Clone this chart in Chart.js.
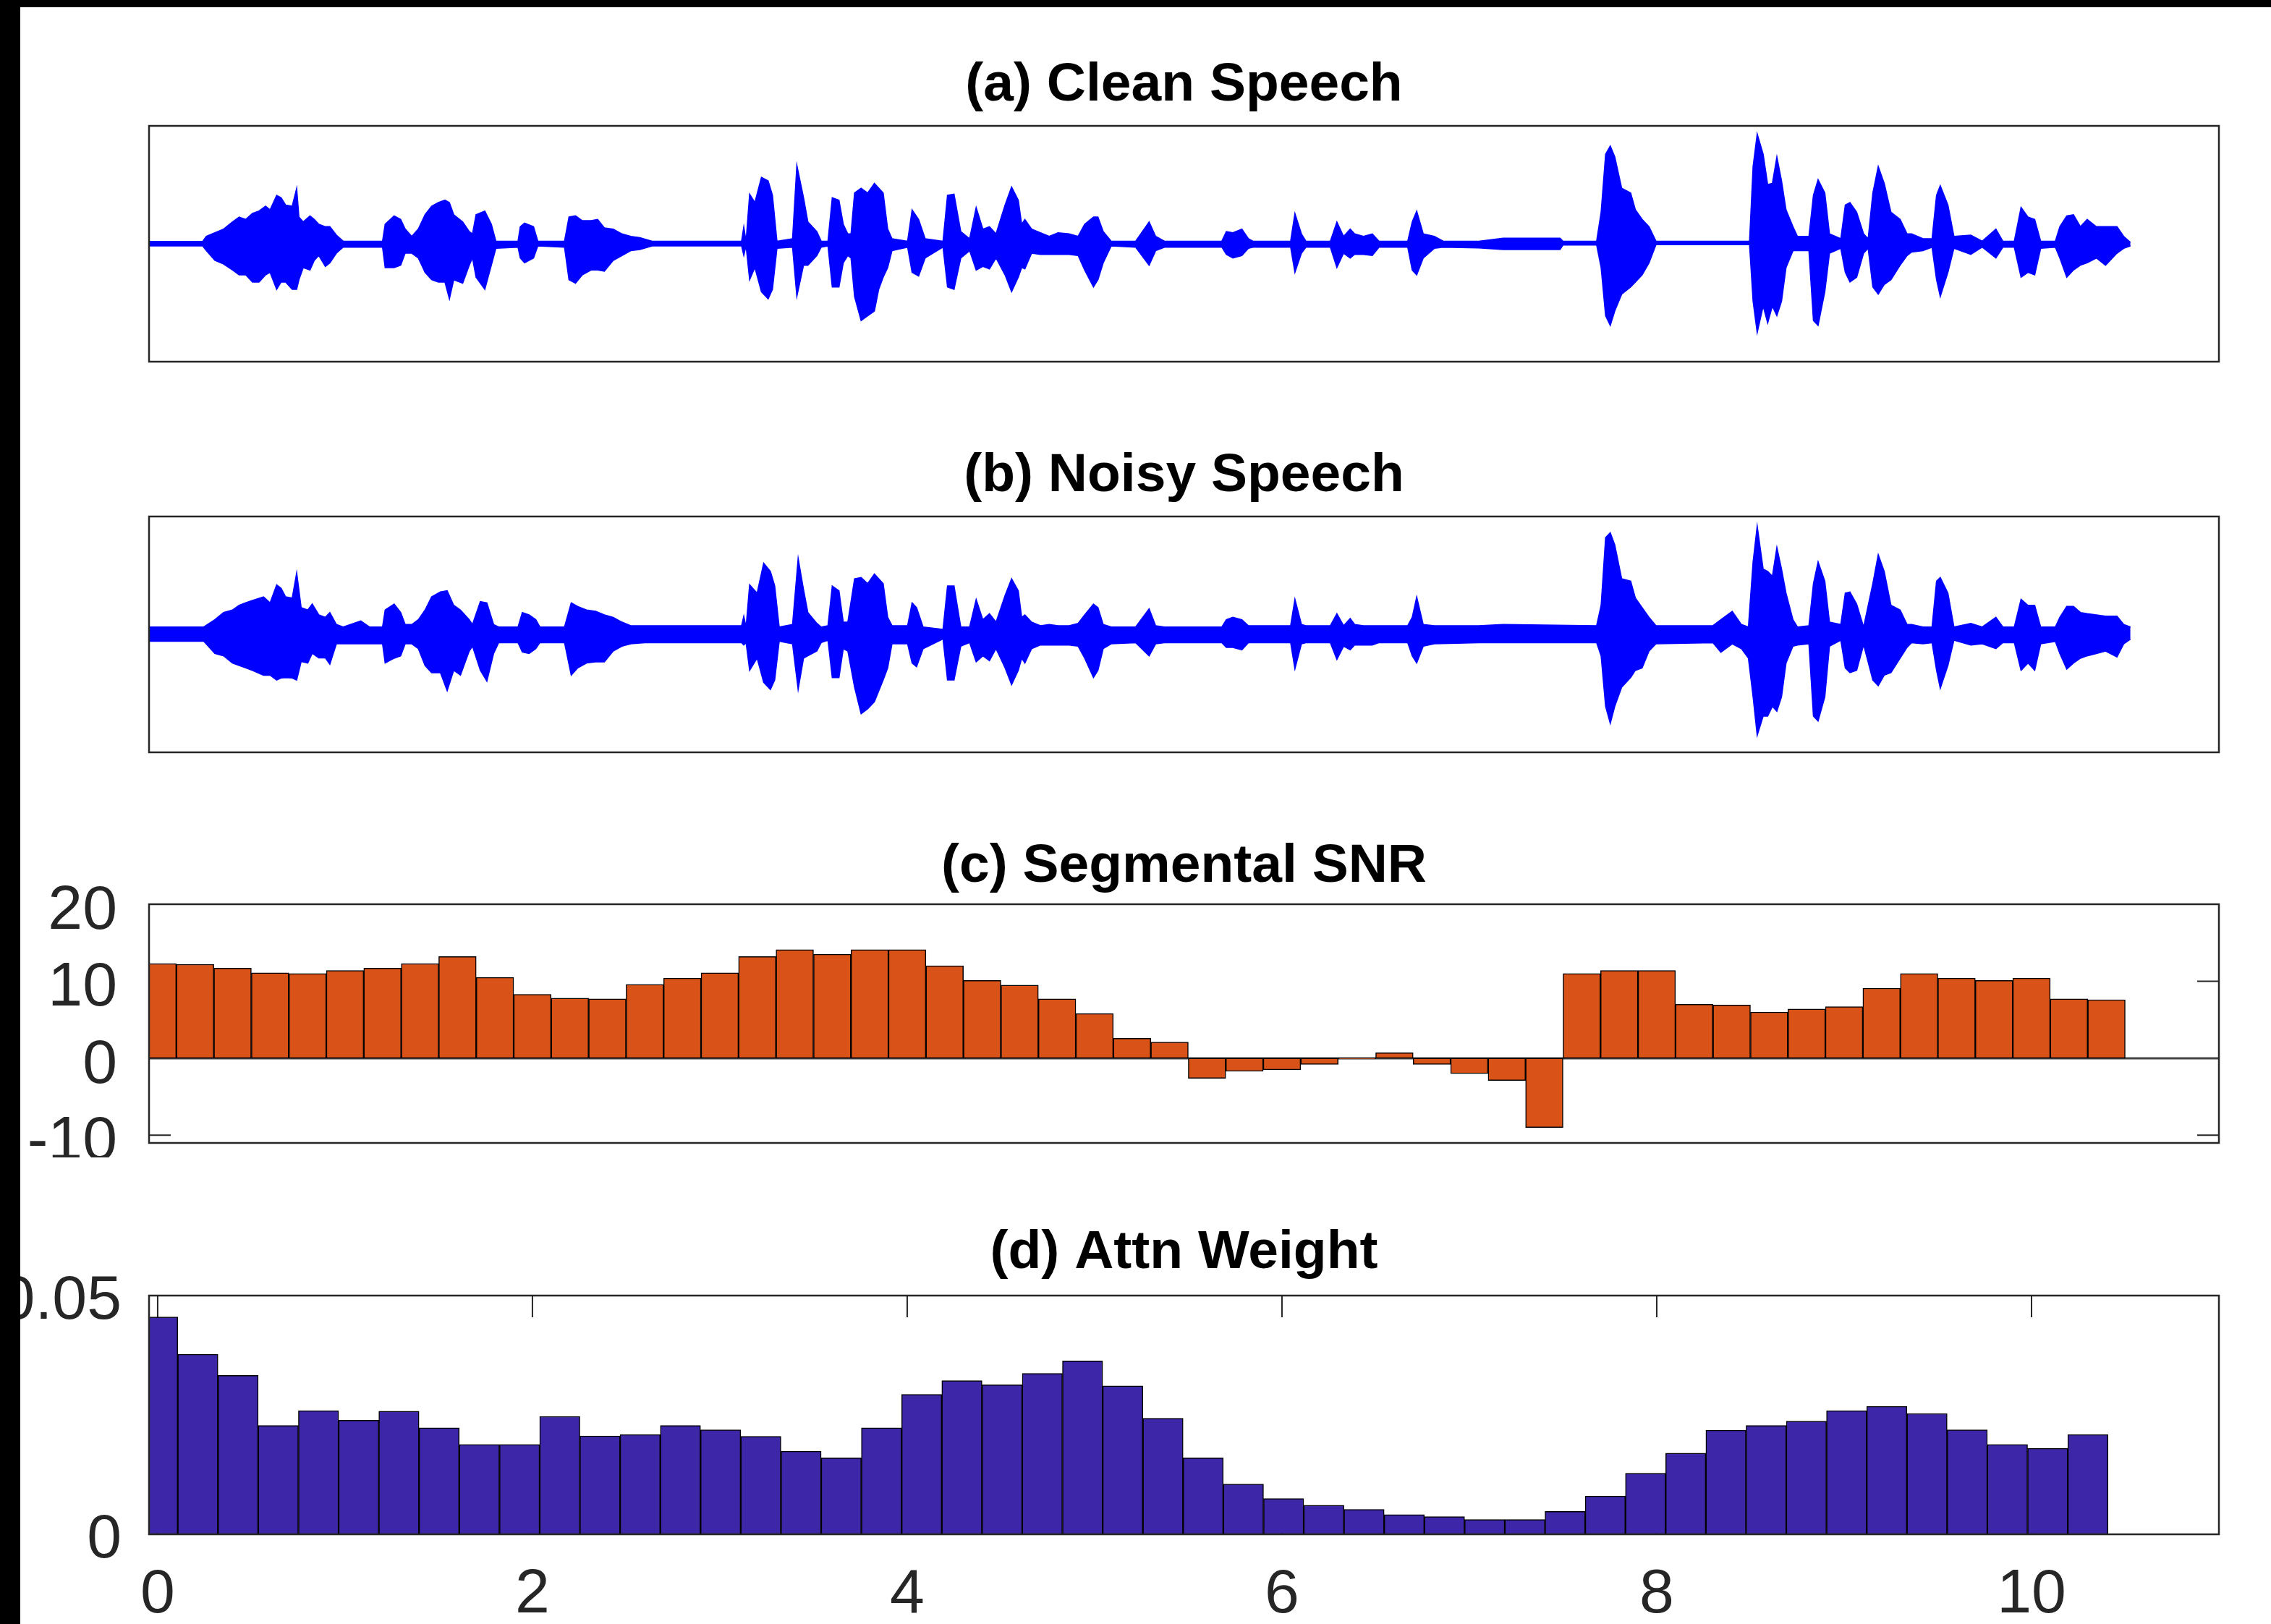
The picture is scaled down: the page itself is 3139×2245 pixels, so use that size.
<!DOCTYPE html>
<html>
<head>
<meta charset="utf-8">
<title>Clean / noisy speech, segmental SNR, attention weight</title>
<script src="https://cdn.jsdelivr.net/npm/chart.js@4.4.0/dist/chart.umd.min.js"></script>
<style>
  html, body { margin: 0; padding: 0; background: #fff; }
  body { width: 3139px; height: 2245px; position: relative; overflow: hidden; }
  .panel { position: absolute; left: 0; width: 3139px; }
  #edgeTop { position: absolute; left: 0; top: 0; width: 3139px; height: 10px; background: #000; z-index: 5; }
  #edgeLeft { position: absolute; left: 0; top: 0; width: 28px; height: 2245px; background: #000; z-index: 5; }
</style>
</head>
<body>
<div id="edgeTop"></div>
<div id="edgeLeft"></div>
<div class="panel" style="top:0px;height:520px"><canvas id="clean" width="3139" height="520"></canvas></div>
<div class="panel" style="top:540px;height:520px"><canvas id="noisy" width="3139" height="520"></canvas></div>
<div class="panel" style="top:1080px;height:520px"><canvas id="snr" width="3139" height="520"></canvas></div>
<div class="panel" style="top:1620px;height:625px"><canvas id="attn" width="3139" height="625"></canvas></div>
<script>
// ---- data ----
const timeMin = -0.046, timeMax = 11;
const timeTicks = [0, 2, 4, 6, 8, 10];
const snrTicks = [-10, 0, 10, 20];
const attnTicks = [0, 0.05];

// waveform envelopes (seconds, normalised amplitude)
const cleanTime = [-0.05, 0.24, 0.26, 0.305, 0.352, 0.40, 0.435, 0.47, 0.506, 0.541,
  0.576, 0.60, 0.635, 0.659, 0.683, 0.718, 0.742, 0.754, 0.777, 0.813,
  0.836, 0.86, 0.895, 0.919, 0.954, 0.99, 1.20, 1.214, 1.262, 1.297,
  1.321, 1.356, 1.391, 1.427, 1.462, 1.498, 1.533, 1.557, 1.58, 1.628,
  1.663, 1.68, 1.699, 1.746, 1.781, 1.805, 1.923, 1.935, 1.958, 2.006,
  2.029, 2.171, 2.195, 2.23, 2.266, 2.313, 2.348, 2.384, 2.431, 2.478,
  2.525, 2.573, 2.639, 3.116, 3.128, 3.14, 3.159, 3.187, 3.222, 3.258,
  3.281, 3.305, 3.388, 3.411, 3.447, 3.47, 3.518, 3.541, 3.577, 3.60,
  3.636, 3.659, 3.683, 3.70, 3.719, 3.754, 3.789, 3.825, 3.848, 3.872,
  3.896, 3.919, 4.002, 4.026, 4.061, 4.096, 4.191, 4.215, 4.25, 4.286,
  4.333, 4.368, 4.404, 4.439, 4.474, 4.522, 4.557, 4.593, 4.611, 4.628,
  4.664, 4.711, 4.758, 4.805, 4.864, 4.912, 4.947, 4.994, 5.018, 5.046,
  5.089, 5.219, 5.291, 5.326, 5.373, 5.679, 5.703, 5.738, 5.786, 5.821,
  5.845, 6.046, 6.069, 6.104, 6.128, 6.258, 6.293, 6.329, 6.364, 6.388,
  6.435, 6.482, 6.518, 6.671, 6.695, 6.719, 6.754, 6.813, 6.861, 7.05,
  7.18, 7.484, 7.5, 7.679, 7.703, 7.727, 7.752, 7.776, 7.813, 7.861,
  7.886, 7.922, 7.959, 7.996, 8.495, 8.514, 8.536, 8.568, 8.592, 8.617,
  8.641, 8.666, 8.69, 8.727, 8.751, 8.812, 8.836, 8.861, 8.897, 8.922,
  8.982, 9.006, 9.031, 9.067, 9.104, 9.128, 9.153, 9.182, 9.214, 9.25,
  9.299, 9.336, 9.36, 9.421, 9.469, 9.493, 9.513, 9.554, 9.586, 9.676,
  9.737, 9.81, 9.847, 9.908, 9.944, 9.981, 10.017, 10.049, 10.127, 10.151,
  10.188, 10.224, 10.261, 10.297, 10.346, 10.395, 10.456, 10.492, 10.528];
const cleanUpper = [0.02, 0.02, 0.063, 0.094, 0.125, 0.186, 0.227, 0.207, 0.258, 0.278,
  0.319, 0.288, 0.411, 0.391, 0.329, 0.319, 0.472, 0.227, 0.186, 0.237,
  0.207, 0.166, 0.145, 0.145, 0.074, 0.022, 0.022, 0.166, 0.237, 0.207,
  0.125, 0.063, 0.125, 0.247, 0.319, 0.35, 0.37, 0.35, 0.247, 0.186,
  0.104, 0.084, 0.247, 0.278, 0.166, 0.022, 0.022, 0.145, 0.176, 0.145,
  0.022, 0.022, 0.227, 0.237, 0.196, 0.196, 0.207, 0.135, 0.125, 0.084,
  0.063, 0.053, 0.022, 0.022, 0.145, 0.022, 0.421, 0.35, 0.564, 0.534,
  0.411, 0.022, 0.043, 0.667, 0.391, 0.186, 0.104, 0.022, 0.022, 0.391,
  0.37, 0.166, 0.084, 0.084, 0.431, 0.472, 0.431, 0.513, 0.472, 0.431,
  0.125, 0.043, 0.022, 0.288, 0.207, 0.043, 0.022, 0.411, 0.421, 0.104,
  0.043, 0.309, 0.125, 0.145, 0.084, 0.329, 0.483, 0.37, 0.166, 0.207,
  0.125, 0.094, 0.063, 0.094, 0.084, 0.063, 0.166, 0.227, 0.227, 0.104,
  0.022, 0.022, 0.186, 0.063, 0.022, 0.022, 0.104, 0.094, 0.125, 0.043,
  0.022, 0.022, 0.258, 0.084, 0.022, 0.022, 0.186, 0.063, 0.125, 0.084,
  0.063, 0.084, 0.022, 0.022, 0.186, 0.278, 0.084, 0.063, 0.022, 0.022,
  0.047, 0.047, 0.022, 0.022, 0.268, 0.759, 0.83, 0.738, 0.472, 0.431,
  0.288, 0.207, 0.145, 0.022, 0.022, 0.656, 0.933, 0.759, 0.503, 0.513,
  0.738, 0.534, 0.288, 0.145, 0.063, 0.063, 0.411, 0.544, 0.431, 0.084,
  0.043, 0.329, 0.35, 0.268, 0.084, 0.043, 0.431, 0.656, 0.513, 0.268,
  0.207, 0.084, 0.084, 0.043, 0.043, 0.411, 0.493, 0.329, 0.063, 0.074,
  0.022, 0.125, 0.022, 0.022, 0.309, 0.227, 0.207, 0.022, 0.022, 0.145,
  0.237, 0.247, 0.145, 0.207, 0.145, 0.145, 0.145, 0.063, 0.012];
const cleanLower = [-0.018, -0.018, -0.059, -0.141, -0.172, -0.223, -0.264, -0.264, -0.325, -0.325,
  -0.264, -0.243, -0.387, -0.325, -0.325, -0.387, -0.387, -0.305, -0.202, -0.223,
  -0.141, -0.10, -0.192, -0.162, -0.08, -0.029, -0.029, -0.202, -0.202, -0.182,
  -0.08, -0.08, -0.121, -0.243, -0.305, -0.325, -0.325, -0.468, -0.305, -0.335,
  -0.182, -0.121, -0.284, -0.387, -0.182, -0.039, -0.029, -0.121, -0.162, -0.121,
  -0.018, -0.029, -0.305, -0.335, -0.264, -0.223, -0.223, -0.233, -0.141, -0.10,
  -0.059, -0.049, -0.018, -0.018, -0.10, -0.018, -0.305, -0.202, -0.407, -0.468,
  -0.387, -0.039, -0.029, -0.448, -0.182, -0.182, -0.10, -0.029, -0.018, -0.366,
  -0.366, -0.162, -0.10, -0.121, -0.448, -0.652, -0.611, -0.571, -0.387, -0.284,
  -0.202, -0.059, -0.029, -0.243, -0.274, -0.121, -0.029, -0.366, -0.387, -0.121,
  -0.059, -0.223, -0.192, -0.213, -0.121, -0.264, -0.407, -0.284, -0.202, -0.213,
  -0.08, -0.09, -0.09, -0.09, -0.09, -0.10, -0.223, -0.366, -0.305, -0.162,
  -0.018, -0.029, -0.182, -0.059, -0.029, -0.029, -0.09, -0.121, -0.10, -0.039,
  -0.029, -0.029, -0.243, -0.08, -0.029, -0.029, -0.202, -0.08, -0.121, -0.09,
  -0.09, -0.10, -0.029, -0.029, -0.223, -0.264, -0.121, -0.039, -0.029, -0.035,
  -0.049, -0.049, -0.01, -0.01, -0.202, -0.611, -0.693, -0.571, -0.427, -0.366,
  -0.325, -0.264, -0.162, -0.008, -0.008, -0.489, -0.755, -0.53, -0.673, -0.53,
  -0.611, -0.489, -0.202, -0.059, -0.059, -0.059, -0.652, -0.693, -0.407, -0.08,
  -0.039, -0.243, -0.325, -0.284, -0.08, -0.039, -0.366, -0.427, -0.346, -0.305,
  -0.182, -0.10, -0.07, -0.059, -0.029, -0.305, -0.448, -0.243, -0.039, -0.09,
  -0.029, -0.121, -0.029, -0.029, -0.284, -0.243, -0.264, -0.039, -0.029, -0.121,
  -0.284, -0.223, -0.182, -0.162, -0.121, -0.182, -0.08, -0.039, -0.018];

const noisyTime = [-0.05, 0.246, 0.305, 0.352, 0.399, 0.435, 0.47, 0.506, 0.565, 0.60,
  0.635, 0.659, 0.683, 0.718, 0.742, 0.766, 0.801, 0.825, 0.86, 0.895,
  0.919, 0.954, 0.99, 1.084, 1.13, 1.20, 1.214, 1.262, 1.297, 1.321,
  1.356, 1.391, 1.427, 1.462, 1.509, 1.545, 1.58, 1.616, 1.663, 1.68,
  1.722, 1.757, 1.793, 1.82, 1.923, 1.946, 1.982, 2.018, 2.04, 2.171,
  2.207, 2.242, 2.289, 2.337, 2.384, 2.431, 2.478, 2.525, 2.60, 3.116,
  3.128, 3.14, 3.159, 3.199, 3.234, 3.27, 3.293, 3.317, 3.388, 3.418,
  3.447, 3.47, 3.518, 3.541, 3.577, 3.60, 3.636, 3.659, 3.683, 3.719,
  3.754, 3.789, 3.825, 3.872, 3.896, 3.919, 4.002, 4.026, 4.05, 4.085,
  4.191, 4.215, 4.25, 4.286, 4.333, 4.368, 4.404, 4.439, 4.474, 4.522,
  4.557, 4.593, 4.611, 4.628, 4.664, 4.711, 4.758, 4.805, 4.864, 4.912,
  4.947, 4.994, 5.018, 5.046, 5.089, 5.219, 5.291, 5.326, 5.373, 5.679,
  5.703, 5.738, 5.786, 5.821, 6.046, 6.069, 6.104, 6.128, 6.258, 6.293,
  6.329, 6.364, 6.388, 6.435, 6.482, 6.518, 6.671, 6.695, 6.719, 6.754,
  6.813, 7.05, 7.18, 7.679, 7.703, 7.727, 7.752, 7.776, 7.813, 7.861,
  7.886, 7.922, 7.959, 7.996, 8.30, 8.342, 8.403, 8.452, 8.489, 8.514,
  8.536, 8.568, 8.592, 8.617, 8.641, 8.666, 8.69, 8.727, 8.751, 8.812,
  8.836, 8.861, 8.897, 8.922, 8.982, 9.006, 9.031, 9.067, 9.104, 9.153,
  9.182, 9.214, 9.25, 9.299, 9.336, 9.36, 9.421, 9.469, 9.493, 9.513,
  9.554, 9.586, 9.676, 9.737, 9.81, 9.847, 9.908, 9.944, 9.981, 10.017,
  10.049, 10.127, 10.151, 10.188, 10.224, 10.261, 10.297, 10.346, 10.395, 10.456,
  10.492, 10.528];
const noisyUpper = [0.063, 0.063, 0.125, 0.186, 0.207, 0.247, 0.268, 0.288, 0.319, 0.268,
  0.421, 0.391, 0.319, 0.309, 0.525, 0.227, 0.207, 0.258, 0.166, 0.145,
  0.186, 0.084, 0.063, 0.115, 0.063, 0.063, 0.207, 0.258, 0.186, 0.084,
  0.084, 0.125, 0.207, 0.319, 0.36, 0.37, 0.247, 0.207, 0.125, 0.084,
  0.278, 0.268, 0.084, 0.063, 0.063, 0.186, 0.166, 0.125, 0.063, 0.063,
  0.268, 0.237, 0.207, 0.196, 0.166, 0.145, 0.104, 0.074, 0.074, 0.074,
  0.155, 0.063, 0.421, 0.35, 0.605, 0.534, 0.411, 0.063, 0.084, 0.646,
  0.38, 0.186, 0.094, 0.063, 0.074, 0.411, 0.37, 0.104, 0.104, 0.472,
  0.483, 0.431, 0.513, 0.431, 0.145, 0.074, 0.074, 0.268, 0.227, 0.063,
  0.043, 0.411, 0.411, 0.063, 0.063, 0.298, 0.125, 0.176, 0.104, 0.329,
  0.472, 0.37, 0.145, 0.166, 0.104, 0.074, 0.084, 0.074, 0.074, 0.094,
  0.166, 0.258, 0.227, 0.084, 0.063, 0.063, 0.217, 0.074, 0.063, 0.063,
  0.125, 0.145, 0.125, 0.074, 0.074, 0.299, 0.084, 0.074, 0.074, 0.176,
  0.074, 0.135, 0.084, 0.074, 0.074, 0.074, 0.074, 0.145, 0.319, 0.084,
  0.074, 0.074, 0.084, 0.074, 0.247, 0.821, 0.862, 0.759, 0.472, 0.452,
  0.309, 0.227, 0.145, 0.074, 0.074, 0.125, 0.196, 0.084, 0.063, 0.616,
  0.921, 0.554, 0.534, 0.493, 0.738, 0.554, 0.35, 0.125, 0.063, 0.074,
  0.431, 0.616, 0.452, 0.104, 0.084, 0.35, 0.36, 0.258, 0.063, 0.431,
  0.677, 0.534, 0.248, 0.207, 0.084, 0.084, 0.063, 0.063, 0.452, 0.483,
  0.35, 0.063, 0.094, 0.063, 0.145, 0.063, 0.063, 0.299, 0.247, 0.247,
  0.063, 0.063, 0.145, 0.237, 0.237, 0.186, 0.176, 0.166, 0.155, 0.155,
  0.084, 0.063];
const noisyLower = [-0.059, -0.059, -0.162, -0.182, -0.243, -0.264, -0.284, -0.305, -0.346, -0.346,
  -0.387, -0.37, -0.366, -0.37, -0.387, -0.23, -0.243, -0.16, -0.20, -0.20,
  -0.254, -0.08, -0.08, -0.08, -0.08, -0.08, -0.243, -0.202, -0.182, -0.08,
  -0.08, -0.121, -0.264, -0.325, -0.325, -0.478, -0.305, -0.346, -0.141, -0.10,
  -0.305, -0.397, -0.162, -0.07, -0.07, -0.15, -0.162, -0.121, -0.07, -0.07,
  -0.346, -0.284, -0.243, -0.233, -0.233, -0.141, -0.10, -0.08, -0.07, -0.07,
  -0.09, -0.07, -0.305, -0.202, -0.407, -0.468, -0.387, -0.059, -0.08, -0.468,
  -0.202, -0.182, -0.141, -0.07, -0.049, -0.366, -0.366, -0.121, -0.141, -0.448,
  -0.673, -0.632, -0.571, -0.387, -0.284, -0.08, -0.08, -0.243, -0.274, -0.121,
  -0.039, -0.387, -0.387, -0.10, -0.07, -0.233, -0.182, -0.223, -0.121, -0.284,
  -0.427, -0.305, -0.202, -0.243, -0.121, -0.09, -0.09, -0.09, -0.09, -0.10,
  -0.202, -0.366, -0.305, -0.121, -0.08, -0.07, -0.182, -0.08, -0.07, -0.07,
  -0.11, -0.11, -0.131, -0.07, -0.07, -0.294, -0.08, -0.07, -0.07, -0.213,
  -0.10, -0.131, -0.09, -0.09, -0.09, -0.07, -0.07, -0.182, -0.243, -0.10,
  -0.08, -0.07, -0.07, -0.07, -0.182, -0.611, -0.755, -0.611, -0.448, -0.366,
  -0.305, -0.284, -0.141, -0.08, -0.07, -0.151, -0.08, -0.121, -0.202, -0.53,
  -0.858, -0.693, -0.693, -0.611, -0.652, -0.53, -0.243, -0.10, -0.09, -0.08,
  -0.693, -0.735, -0.53, -0.10, -0.049, -0.284, -0.325, -0.305, -0.09, -0.387,
  -0.436, -0.346, -0.325, -0.202, -0.11, -0.07, -0.08, -0.07, -0.305, -0.458,
  -0.264, -0.049, -0.09, -0.08, -0.121, -0.07, -0.07, -0.305, -0.243, -0.305,
  -0.08, -0.06, -0.162, -0.294, -0.243, -0.202, -0.182, -0.162, -0.141, -0.192,
  -0.08, -0.04];

// segmental SNR (dB), one frame every 0.2 s
const snrHop = 0.2;
const snrValues = [12.3, 12.2, 11.7, 11.1, 11.0, 11.4, 11.7, 12.3, 13.2, 10.5,
  8.3, 7.8, 7.7, 9.6, 10.4, 11.1, 13.2, 14.1, 13.5, 14.1,
  14.1, 12.0, 10.1, 9.5, 7.7, 5.8, 2.6, 2.1, -2.6, -1.7,
  -1.5, -0.8, -0.1, 0.7, -0.8, -2.0, -2.9, -9.0, 11.0, 11.4,
  11.4, 7.0, 6.9, 6.0, 6.4, 6.7, 9.1, 11.0, 10.4, 10.1,
  10.4, 7.7, 7.6];

// attention weight per frame
const attnHop = 0.2146;
const attnValues = [0.0455, 0.0377, 0.0333, 0.0228, 0.0259, 0.0239, 0.0258, 0.0223, 0.0188, 0.0188,
  0.0247, 0.0206, 0.0209, 0.0228, 0.0219, 0.0205, 0.0174, 0.0160, 0.0223, 0.0293,
  0.0322, 0.0313, 0.0337, 0.0363, 0.0311, 0.0243, 0.0160, 0.0105, 0.0075, 0.0061,
  0.0052, 0.0041, 0.0037, 0.0031, 0.0031, 0.0048, 0.0080, 0.0128, 0.0170, 0.0218,
  0.0228, 0.0237, 0.0259, 0.0268, 0.0253, 0.0219, 0.0188, 0.0180, 0.0209];

// ---- drawing ----
const FONT = '"Liberation Sans", Arial, Helvetica, sans-serif';
const AXIS = '#262626';
const TICK_LEN = 30;

// matlab style box with inward ticks
const matlabAxes = {
  id: 'matlabAxes',
  beforeDatasetsDraw(chart, args, opts) {
    const ctx = chart.ctx, a = chart.chartArea;
    ctx.save();
    ctx.strokeStyle = AXIS;
    ctx.lineWidth = 2;
    ctx.beginPath();
    (opts.xTicks || []).forEach(v => {
      const px = chart.scales.x.getPixelForValue(v);
      ctx.moveTo(px, a.top); ctx.lineTo(px, a.top + TICK_LEN);
      ctx.moveTo(px, a.bottom); ctx.lineTo(px, a.bottom - TICK_LEN);
    });
    (opts.yTicks || []).forEach(v => {
      const py = chart.scales.y.getPixelForValue(v);
      ctx.moveTo(a.left, py); ctx.lineTo(a.left + TICK_LEN, py);
      ctx.moveTo(a.right, py); ctx.lineTo(a.right - TICK_LEN, py);
    });
    ctx.stroke();
    if (opts.baseline) {
      const py0 = chart.scales.y.getPixelForValue(0);
      ctx.strokeStyle = '#444';
      ctx.lineWidth = 3;
      ctx.beginPath();
      ctx.moveTo(a.left, py0); ctx.lineTo(a.right, py0);
      ctx.stroke();
    }
    ctx.restore();
  },
  afterDatasetsDraw(chart) {
    const ctx = chart.ctx, a = chart.chartArea;
    ctx.save();
    ctx.strokeStyle = AXIS;
    ctx.lineWidth = 2.5;
    ctx.strokeRect(a.left, a.top, a.right - a.left, a.bottom - a.top);
    ctx.restore();
  }
};

function setTicks(list) {
  return function (scale) { scale.ticks = list.map(v => ({ value: v })); };
}

// no extra room for labels hanging past the ends of an axis
function noEdgePad(s) {
  s.paddingTop = 0; s.paddingBottom = 0; s.paddingLeft = 0; s.paddingRight = 0;
}

function titleOpts(text, top, bottom) {
  return {
    display: true, text: text, color: '#000', fullSize: false,
    font: { family: FONT, size: 75, weight: 'bold', lineHeight: 1.2 },
    padding: { top: top, bottom: bottom }
  };
}

function hiddenTime() {
  return { type: 'linear', display: false, min: timeMin, max: timeMax, offset: false,
           afterBuildTicks: setTicks(timeTicks) };
}

function waveChart(id, title, times, upper, lower) {
  new Chart(document.getElementById(id), {
    type: 'line',
    data: {
      datasets: [
        { data: times.map((t, i) => ({ x: t, y: upper[i] })), borderColor: '#0000FF',
          backgroundColor: '#0000FF', borderWidth: 1.5, pointRadius: 0, fill: '+1' },
        { data: times.map((t, i) => ({ x: t, y: lower[i] })), borderColor: '#0000FF',
          borderWidth: 1.5, pointRadius: 0, fill: false }
      ]
    },
    options: {
      responsive: false, animation: false, devicePixelRatio: 1,
      layout: { padding: { left: 206, right: 72, top: 0, bottom: 20 } },
      scales: {
        x: hiddenTime(),
        y: { display: false, min: -1, max: 1 }
      },
      plugins: {
        legend: { display: false }, tooltip: { enabled: false },
        title: titleOpts(title, 73, 11),
        matlabAxes: {}
      }
    },
    plugins: [matlabAxes]
  });
}

waveChart('clean', '(a) Clean Speech', cleanTime, cleanUpper, cleanLower);
waveChart('noisy', '(b) Noisy Speech', noisyTime, noisyUpper, noisyLower);

const tickFont = { family: FONT, size: 86 };

new Chart(document.getElementById('snr'), {
  type: 'bar',
  data: {
    datasets: [{
      data: snrValues.map((v, i) => ({ x: i * snrHop, y: v })),
      backgroundColor: '#D95319', borderColor: '#000', borderWidth: 1.5,
      borderSkipped: false, barPercentage: 1, categoryPercentage: 1
    }]
  },
  options: {
    responsive: false, animation: false, devicePixelRatio: 1,
    layout: { padding: { left: 0, right: 72, top: 0, bottom: 20 } },
    scales: {
      x: hiddenTime(),
      y: {
        min: -11, max: 20,
        afterBuildTicks: setTicks(snrTicks),
        afterFit: s => { s.width = 206; noEdgePad(s); },
        grid: { display: false, drawTicks: false }, border: { display: false },
        ticks: { font: tickFont, color: AXIS, padding: 44, labelOffset: 10 }
      }
    },
    plugins: {
      legend: { display: false }, tooltip: { enabled: false },
      title: titleOpts('(c) Segmental SNR', 73, 7),
      matlabAxes: { yTicks: snrTicks, baseline: true }
    }
  },
  plugins: [matlabAxes]
});

new Chart(document.getElementById('attn'), {
  type: 'bar',
  data: {
    datasets: [{
      data: attnValues.map((v, i) => ({ x: i * attnHop, y: v })),
      backgroundColor: '#3E26A8', borderColor: '#000', borderWidth: 1.5,
      borderSkipped: false, barPercentage: 1, categoryPercentage: 1
    }]
  },
  options: {
    responsive: false, animation: false, devicePixelRatio: 1,
    layout: { padding: { left: 0, right: 72, top: 0, bottom: 0 } },
    scales: {
      x: {
        type: 'linear', min: timeMin, max: timeMax, offset: false,
        afterBuildTicks: setTicks(timeTicks),
        afterFit: s => { s.height = 124; noEdgePad(s); },
        grid: { display: false, drawTicks: false }, border: { display: false },
        ticks: { font: tickFont, color: AXIS, padding: 33, autoSkip: false, maxRotation: 0 }
      },
      y: {
        min: 0, max: 0.05,
        afterBuildTicks: setTicks(attnTicks),
        afterFit: s => { s.width = 206; noEdgePad(s); },
        grid: { display: false, drawTicks: false }, border: { display: false },
        ticks: { font: tickFont, color: AXIS, padding: 38, labelOffset: 8 }
      }
    },
    plugins: {
      legend: { display: false }, tooltip: { enabled: false },
      title: titleOpts('(d) Attn Weight', 67, 14),
      matlabAxes: { xTicks: timeTicks, yTicks: attnTicks }
    }
  },
  plugins: [matlabAxes]
});
</script>
</body>
</html>
